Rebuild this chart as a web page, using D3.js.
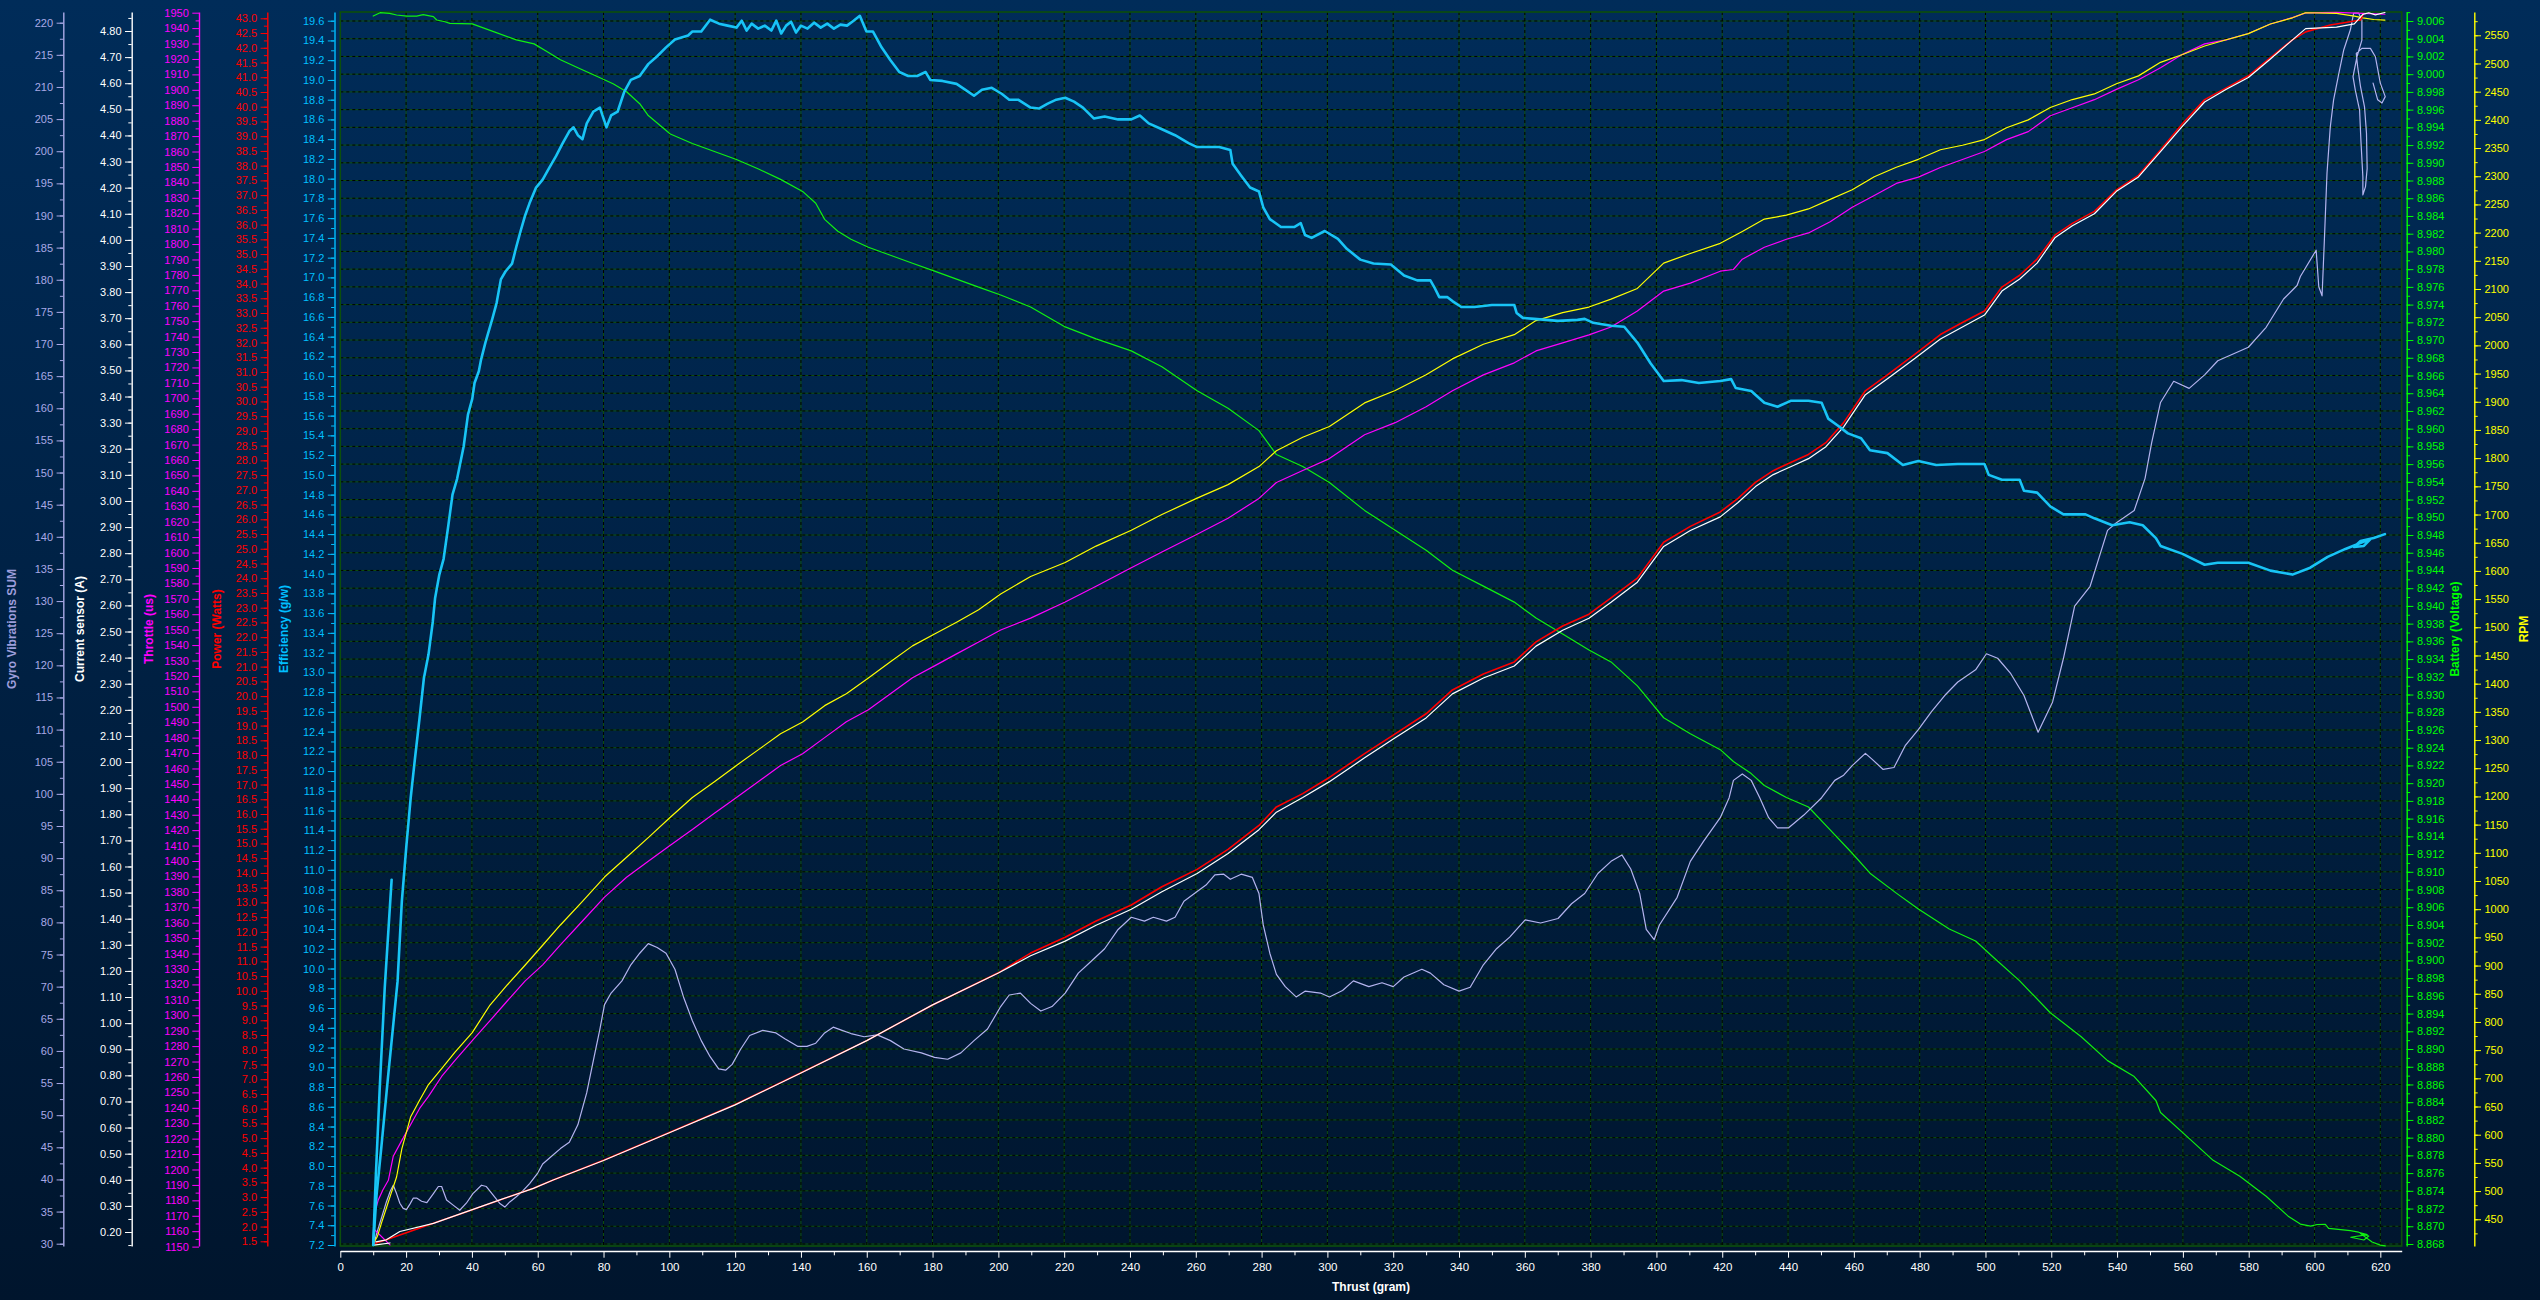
<!DOCTYPE html>
<html><head><meta charset="utf-8">
<script src="https://cdn.jsdelivr.net/npm/d3@7"></script>
<style>
html,body{margin:0;padding:0;background:#001a38;overflow:hidden}
svg{display:block}
</style></head><body>
<svg id="c" width="2540" height="1300"></svg>
<script>
// ---------------- DATA (x = thrust in grams) ----------------
const efficiency = [[10,7.2],[11,7.7],[12.5,8.2],[14.5,8.9],[16,9.4],[17.4,9.87],[18.7,10.68],[20.1,11.25],[21.4,11.73],[22.7,12.13],[24.1,12.54],[25.4,12.94],[26.8,13.18],[28.1,13.51],[28.8,13.75],[30.1,13.99],[31.4,14.15],[32.8,14.48],[34.1,14.80],[35.5,14.96],[37.5,15.29],[38.8,15.61],[40.1,15.77],[40.8,15.93],[42.1,16.05],[42.8,16.17],[44.1,16.34],[46.2,16.58],[47.5,16.74],[48.8,16.98],[50.2,17.06],[52.2,17.14],[53.5,17.31],[54.8,17.47],[56.2,17.63],[57.5,17.75],[59.5,17.91],[61.5,17.99],[63.5,18.11],[65.6,18.23],[67.6,18.36],[69.6,18.48],[70.9,18.52],[72.2,18.44],[73.6,18.40],[74.9,18.56],[76.9,18.68],[78.9,18.72],[80.9,18.52],[82.3,18.64],[84.3,18.68],[86.3,18.88],[88.3,19.00],[91.0,19.04],[93.6,19.16],[96.3,19.24],[99.0,19.33],[101.7,19.41],[105.7,19.45],[107.0,19.49],[109.7,19.49],[112.4,19.61],[115.1,19.57],[117.7,19.55],[120.4,19.53],[122,19.60],[123.5,19.50],[125,19.57],[127,19.52],[129,19.55],[131,19.50],[132.5,19.60],[134,19.47],[135.5,19.55],[137,19.59],[138.5,19.48],[140,19.55],[142,19.52],[144,19.58],[146,19.53],[148,19.57],[150,19.52],[152,19.56],[154,19.55],[156,19.60],[157.9,19.65],[159.9,19.49],[161.9,19.49],[164.5,19.33],[167.2,19.20],[169.9,19.08],[172.6,19.04],[175.3,19.04],[177.9,19.08],[179.3,19.0],[183,18.99],[187.3,18.96],[190,18.90],[192.6,18.84],[195,18.90],[198,18.92],[201,18.86],[203.3,18.80],[206,18.80],[209.8,18.72],[212.3,18.71],[215,18.76],[217.6,18.80],[220.3,18.82],[223,18.78],[225.7,18.72],[229,18.61],[232.3,18.63],[236.4,18.60],[240.4,18.60],[243,18.64],[245.7,18.56],[249.7,18.50],[253.7,18.44],[257.8,18.36],[260.4,18.32],[263.1,18.32],[267.1,18.32],[270.5,18.29],[271.2,18.15],[273.8,18.03],[276.5,17.91],[279.2,17.87],[280.5,17.71],[282.5,17.59],[285.9,17.51],[289.9,17.51],[291.9,17.55],[293.2,17.43],[295.2,17.40],[299.2,17.47],[303.2,17.39],[305.9,17.29],[310,17.18],[314,17.14],[319.3,17.13],[323.3,17.02],[327.3,16.97],[331.3,16.97],[332.5,16.90],[334,16.80],[336.5,16.80],[338,16.76],[340.7,16.70],[344.7,16.70],[350,16.72],[356.8,16.72],[357.5,16.64],[359.4,16.59],[362.8,16.58],[370.1,16.56],[376,16.57],[378.2,16.58],[380.8,16.54],[386.2,16.51],[390.2,16.50],[394.2,16.34],[398.2,16.13],[402.2,15.95],[407.6,15.96],[412.9,15.93],[419.4,15.95],[422.7,15.97],[424.1,15.88],[428.8,15.85],[432.8,15.73],[436.8,15.69],[440.8,15.75],[446.2,15.75],[450.2,15.73],[452.2,15.57],[455.5,15.49],[458.2,15.42],[462.2,15.37],[464.9,15.25],[470.2,15.22],[474.9,15.10],[479.6,15.14],[485,15.10],[491.6,15.11],[499.7,15.11],[501,15.00],[505,14.95],[510.4,14.95],[511.7,14.84],[515.7,14.82],[519.7,14.68],[523.7,14.60],[530.4,14.60],[533.1,14.56],[538.5,14.49],[543.8,14.52],[547.8,14.49],[551.8,14.36],[553.2,14.28],[559.9,14.20],[566.6,14.09],[570.6,14.11],[579.9,14.11],[586.6,14.03],[593.3,13.99],[598.7,14.06],[604,14.17],[609.4,14.25],[614.7,14.32],[617,14.35],[615,14.28],[612,14.27],[614,14.33],[618,14.36],[621.4,14.40]];
const efficiencySpike = [[10,7.2],[10.8,7.9],[12,8.8],[13.5,9.8],[15.6,10.9]];

const battery = [[10,9.00656],[12.1,9.00694],[15,9.00687],[17.1,9.00668],[20.2,9.00656],[23.2,9.00656],[25.2,9.00671],[28.3,9.00650],[29.3,9.00611],[31.8,9.00592],[33.3,9.00574],[40.1,9.00567],[46.8,9.00477],[53.5,9.00387],[58.9,9.00342],[62.9,9.00252],[66.9,9.00162],[72.2,9.00072],[77.6,8.99982],[82.9,8.99892],[87,8.99802],[91,8.99667],[93.6,8.99533],[100.3,8.99325],[107,8.99218],[113.7,8.99128],[120.4,8.99037],[127.1,8.9893],[133.8,8.98813],[140.5,8.98677],[144.5,8.98543],[147.2,8.98362],[151.2,8.98227],[155.2,8.98137],[160.5,8.98047],[167.2,8.97957],[173.9,8.97866],[180.6,8.97778],[187.3,8.97688],[194,8.97597],[200.7,8.97508],[209.8,8.97373],[220.3,8.97148],[229.7,8.97013],[240.4,8.96878],[249.7,8.96698],[260.4,8.96428],[269.8,8.96230],[279.2,8.95978],[284.5,8.95708],[292.5,8.95573],[300.6,8.95393],[311.3,8.95078],[320.6,8.94853],[330,8.94627],[338,8.94403],[347.4,8.94223],[356.8,8.94043],[363.4,8.93863],[371.5,8.93683],[379.5,8.93503],[386.2,8.93368],[394.2,8.93098],[402.2,8.92738],[410.3,8.92558],[419.4,8.92378],[423.4,8.92244],[428.8,8.92108],[432.8,8.91973],[439.5,8.91838],[446.2,8.91731],[451.5,8.91524],[459.5,8.91209],[464.9,8.90984],[472.9,8.90759],[479.6,8.90579],[489,8.90354],[497,8.90219],[502.3,8.90039],[510.4,8.89769],[519.7,8.89409],[529.1,8.89139],[537.1,8.88869],[545.2,8.88689],[551.8,8.88419],[553.2,8.88284],[561.2,8.88014],[569.2,8.87744],[577.3,8.87564],[585.3,8.87339],[592,8.87114],[595.7,8.87025],[598.8,8.87002],[600.8,8.8702],[603.3,8.87022],[604.3,8.86977],[610.9,8.8695],[613.4,8.86933],[616,8.86905],[611,8.86876],[615,8.86845],[616.5,8.86890],[613.9,8.86920],[617.5,8.86823],[620,8.86787],[621.5,8.86778]];

const rpm = [[10,406],[11.3,420],[12.6,445],[14,470],[15.4,495],[17.1,525],[18.7,575],[21.4,632],[24.1,661],[26.8,689],[30.8,717],[34.8,746],[40.1,781],[45.5,830],[50.8,866],[56.2,901],[61.5,936],[66.9,972],[73.6,1014],[80.3,1057],[87.0,1092],[93.6,1127],[100.3,1163],[107,1198],[113.7,1226],[120.4,1255],[127.1,1283],[133.8,1311],[140.5,1332],[147.2,1361],[153.8,1382],[160.5,1410],[167.2,1439],[173.9,1467],[180.6,1488],[187.3,1509],[194,1531],[200.7,1559],[209.8,1590],[220.3,1615],[229.7,1644],[240.4,1672],[249.7,1700],[260.4,1729],[269.8,1753],[279.2,1785],[284.5,1813],[292.5,1837],[300.6,1856],[311.3,1898],[320.6,1920],[330,1948],[338,1976],[347.4,2002],[356.8,2019],[363.4,2044],[371.5,2058],[379.5,2068],[386.2,2082],[394.2,2101],[402.2,2146],[410.3,2163],[419.4,2181],[426.1,2202],[432.8,2224],[439.5,2231],[446.2,2242],[452.8,2259],[459.5,2276],[466.2,2299],[472.9,2316],[479.6,2330],[486.3,2347],[493,2355],[499.7,2365],[506.4,2386],[513,2400],[519.7,2422],[526.4,2436],[533.1,2446],[539.8,2464],[546.5,2478],[553.2,2502],[559.9,2516],[566.6,2531],[573.2,2542],[579.9,2553],[586.6,2570],[593.3,2581],[597.3,2590],[606.7,2589],[612.1,2584],[614.7,2581],[618,2578],[621.4,2577]];

const throttle = [[10.5,1160.8],[15.1,1151.1],null,[10.2,1170],[11.5,1180],[13,1187],[14.6,1193],[16.1,1208.6],[18.7,1218.9],[21.4,1229.2],[24.1,1239.6],[26.8,1247.4],[30.8,1260.3],[34.8,1270.6],[40.1,1283.5],[45.5,1296.5],[50.8,1309.4],[56.2,1322.3],[61.5,1332.7],[66.9,1345.6],[73.6,1361.1],[80.3,1376.6],[87.0,1389.5],[93.6,1399.9],[100.3,1410.2],[107,1420.5],[113.7,1430.9],[120.4,1441.2],[127.1,1451.6],[133.8,1461.9],[140.5,1469.6],[147.2,1480.0],[153.8,1490.3],[160.5,1498.1],[167.2,1508.4],[173.9,1518.8],[180.6,1526.5],[187.3,1534.3],[194,1542.0],[200.7,1549.8],[209.8,1557.5],[220.3,1567.9],[229.7,1578.2],[240.4,1590.1],[249.7,1600.4],[260.4,1611.8],[269.8,1622.2],[279.2,1635.1],[284.5,1645.4],[292.5,1653.2],[300.6,1660.9],[311.3,1676.4],[320.6,1684.2],[330,1694.5],[338,1704.9],[347.4,1715.2],[356.8,1723.0],[363.4,1730.7],[371.5,1735.9],[379.5,1741.1],[386.2,1746.2],[394.2,1756.6],[402.2,1769.5],[410.3,1774.7],[419.4,1782.4],[423.4,1783.5],[426.1,1790.2],[432.8,1797.9],[439.5,1803.1],[446.2,1807.2],[452.8,1814.5],[459.5,1823.8],[466.2,1831.5],[472.9,1839.3],[479.6,1843.4],[486.3,1849.6],[493,1854.8],[499.7,1860.0],[506.4,1867.7],[513,1872.9],[519.7,1883.2],[526.4,1888.4],[533.1,1893.6],[539.8,1900.3],[546.5,1906.5],[553.2,1914.3],[559.9,1923.0],[566.6,1929.8],[573.2,1932.4],[579.9,1936.5],[586.6,1942.7],[593.3,1946.8],[597.3,1949.9],[606.7,1950.2],[614.7,1949.5],[621.4,1949.0]];

const power = [[10,1.41],[14,1.55],[18.1,1.71],[28.3,2.11],[38.4,2.50],[48.5,2.90],[58.7,3.30],[64.7,3.58],[80,4.25],[100,5.19],[120,6.14],[140,7.22],[160,8.31],[180,9.52],[200,10.61],[209.8,11.28],[220.3,11.82],[229.7,12.37],[240.4,12.91],[249.7,13.53],[260.4,14.12],[269.8,14.80],[279.2,15.61],[284.5,16.24],[292.5,16.69],[300.6,17.24],[311.3,18.05],[320.6,18.72],[330,19.40],[338,20.21],[347.4,20.75],[356.8,21.16],[363.4,21.84],[371.5,22.38],[379.5,22.78],[386.2,23.33],[394.2,24.00],[402.2,25.22],[410.3,25.76],[419.4,26.25],[424.8,26.71],[430.1,27.25],[435.5,27.65],[440.8,27.93],[446.2,28.20],[451.5,28.60],[456.9,29.28],[463.5,30.36],[470.2,30.90],[478.3,31.58],[486.3,32.27],[493,32.68],[499.7,33.07],[505,33.88],[510.4,34.28],[515.7,34.83],[521.1,35.64],[526.4,36.04],[533.1,36.45],[539.8,37.18],[546.5,37.67],[553.2,38.53],[559.9,39.43],[566.6,40.24],[573.2,40.64],[579.9,41.05],[586.6,41.67],[593.3,42.27],[597.3,42.54],[604.8,42.77],[614,42.94],[614.7,43.11]];

const currentSensor = [[10.2,0.150],[15.1,0.158],null,[10.8,0.162],[14,0.170],[18.1,0.202],[28.3,0.233],[38.4,0.278],[48.5,0.323],[58.7,0.367],[64.7,0.399],[80,0.474],[100,0.580],[120,0.687],[140,0.809],[160,0.933],[180,1.070],[200,1.192],[209.8,1.258],[220.3,1.314],[229.7,1.375],[240.4,1.436],[249.7,1.503],[260.4,1.573],[269.8,1.650],[279.2,1.741],[284.5,1.808],[292.5,1.864],[300.6,1.925],[311.3,2.016],[320.6,2.093],[330,2.169],[338,2.261],[347.4,2.322],[356.8,2.368],[363.4,2.444],[371.5,2.505],[379.5,2.551],[386.2,2.612],[394.2,2.689],[402.2,2.826],[410.3,2.887],[419.4,2.939],[424.8,2.994],[430.1,3.055],[435.5,3.101],[440.8,3.131],[446.2,3.162],[451.5,3.208],[456.9,3.284],[463.5,3.407],[470.2,3.468],[478.3,3.544],[486.3,3.620],[493,3.666],[499.7,3.712],[505,3.804],[510.4,3.850],[515.7,3.911],[521.1,4.008],[526.4,4.054],[533.1,4.100],[539.8,4.186],[546.5,4.241],[553.2,4.338],[559.9,4.436],[566.6,4.528],[573.2,4.577],[579.9,4.622],[586.6,4.693],[593.3,4.766],[597.3,4.809],[606.7,4.815],[612.1,4.827],[614.7,4.864],[616.5,4.870],[618.5,4.862],[621.4,4.871]];

const gyroVibrations = [[10.2,29.9],[11,31.5],[12.5,34],[14,36.5],[15.2,38.2],[16.1,39.1],[17.1,37.8],[18.1,36.3],[19.1,35.5],[20.1,35.3],[21.2,36.2],[22.2,37.1],[23.2,37.1],[24.7,36.6],[26.3,36.4],[28.3,37.8],[29.8,38.9],[30.8,38.9],[32.3,36.8],[34.3,36.0],[36.3,35.2],[38.3,36.3],[40.3,37.8],[42.9,39.1],[44.4,38.9],[46.4,37.6],[48.4,36.3],[50,35.7],[51.5,36.5],[53.5,37.3],[55.6,38.3],[57.6,39.4],[60,41.0],[61.5,42.4],[64.2,43.6],[66.9,44.8],[69.6,45.8],[72.2,48.5],[74.9,53.5],[76.9,58.5],[78.9,63.4],[80.3,67.2],[82.3,69.0],[85.6,70.9],[88.3,73.4],[91,75.2],[93.6,76.7],[96.3,76.1],[99,75.2],[101.7,72.7],[104.3,68.4],[107,64.7],[109.7,61.6],[112.4,59.1],[115,57.2],[117.1,57.0],[119.1,57.9],[121.7,60.3],[124.4,62.4],[128.4,63.2],[132.4,62.8],[135.1,61.9],[139.1,60.7],[141.8,60.7],[144.5,61.2],[147.2,62.8],[149.8,63.7],[152.5,63.2],[155.2,62.7],[159.2,62.2],[163.2,62.5],[167.2,61.6],[171.3,60.3],[176.6,59.7],[180.6,59.0],[184.6,58.7],[188.6,59.7],[192.6,61.6],[196.7,63.4],[200.7,66.9],[203.3,68.7],[206.7,69.0],[209.8,67.4],[212.9,66.2],[216.3,66.9],[220.3,69.0],[224.3,72.1],[228.3,74.0],[232.3,75.9],[236.4,78.9],[240.4,80.8],[244.4,80.2],[247.1,80.8],[251.1,80.2],[253.7,80.8],[256.4,83.3],[260.4,84.8],[263.1,85.8],[265.8,87.4],[268.5,87.5],[270.5,86.7],[273.8,87.5],[277.2,87.0],[279.2,84.5],[280.5,79.6],[282.5,75.2],[284.5,71.9],[287.2,70.0],[290.5,68.4],[293.2,69.3],[297.9,69.0],[300.6,68.4],[304.6,69.4],[307.9,70.9],[312.6,70.0],[316.6,70.6],[320,70.0],[323.3,71.5],[328.7,72.7],[331.3,72.1],[335.4,70.3],[340,69.3],[343.4,69.9],[347.4,73.4],[351.4,75.9],[355.4,77.7],[360.1,80.4],[364.8,79.9],[370.1,80.6],[374.2,82.9],[378.2,84.5],[382.2,87.6],[386.2,89.5],[389.5,90.5],[392.2,88.3],[394.9,84.5],[396.9,78.9],[399.3,77.3],[400.9,79.6],[406.3,83.9],[410.3,89.5],[414.3,92.6],[419.4,96.3],[422.1,99.4],[423.4,102.1],[426.1,103.1],[428.8,102.1],[431.4,99.4],[434.1,96.3],[436.8,94.7],[440.1,94.7],[444.8,96.7],[450.2,99.4],[454.2,102.1],[456.9,102.9],[459.5,104.4],[463.5,106.3],[465.5,105.4],[468.9,103.8],[472.2,104.1],[475.6,107.5],[479.6,110.0],[483.6,112.8],[487.6,115.3],[491.6,117.4],[497,119.3],[500.3,121.8],[503.7,121.1],[507.7,118.7],[511.7,115.3],[516,109.6],[520.4,114.3],[523.7,121.1],[527.1,129.2],[531.8,132.3],[537.1,141.0],[539.8,142.2],[545.2,144.1],[548.5,149.1],[550.5,154.6],[553.2,160.9],[557.2,164.2],[561.9,163.1],[566.6,165.2],[570.6,167.4],[579.9,169.5],[585.3,172.6],[590.6,177.0],[594.7,179.1],[595.7,180.5],[600.5,184.6],[601.3,178.9],[602.3,177.5],[603,186.2],[603.8,196.6],[604.8,203.8],[605.8,208.0],[607.4,212.1],[608.9,215.8],[610.9,218.9],[611.9,221.5],[613.4,221.5],[614.4,220.4],[614.4,217.3],[612.9,214.7],[611.7,211.6],[612.4,209.5],[613.7,206.4],[614.1,201.7],[614.7,196.0],[614.7,193.2],[615.5,194.5],[616,197.3],[615.8,202.8],[615.2,206.9],[614.0,210.0],[613.1,213.2],[612.7,215.2],[614.4,216.0],[617,216.0],[618.5,214.7],[620,210.6],[621.5,208.5],[620.5,207.5],[619.2,208.0],[617.8,210.6]];

// ---------------- TICKS ----------------
const thrustTicks = d3.range(0, 621, 20);
const thrustMinor = d3.range(10, 627, 20);
const gyroTicks = d3.range(30, 221, 5);
const gyroMinor = d3.range(30, 222, 2.5);
const currentTicks = d3.range(2, 49).map(i => i / 10);
const currentMinor = d3.range(3, 98).map(i => i / 20);
const throttleTicks = d3.range(1150, 1951, 10);
const throttleMinor = d3.range(1155, 1951, 10);
const powerTicks = d3.range(3, 87).map(i => i / 2);
const powerMinor = d3.range(6, 173).map(i => i / 4);
const effTicks = d3.range(36, 99).map(i => i / 5);
const effMinor = d3.range(72, 197).map(i => i / 10);
const batteryTicks = d3.range(4434, 4504).map(i => i / 500);
const batteryMinor = d3.range(8868, 9008).map(i => i / 1000);
const rpmTicks = d3.range(450, 2551, 50);
const rpmMinor = d3.range(425, 2591, 25);

// ---------------- LAYOUT ----------------
const W = 2540, H = 1300;
const TOP = 12, BOT = 1246, LEFT = 340.3, RIGHT = 2401.7;
const FONT = '"Liberation Sans", Arial, sans-serif';

const svg = d3.select('#c');
const defs = svg.append('defs');
const grad = defs.append('linearGradient').attr('id', 'bg').attr('x1', 0).attr('y1', 0).attr('x2', 0).attr('y2', 1);
grad.append('stop').attr('offset', '0%').attr('stop-color', '#002c59');
grad.append('stop').attr('offset', '100%').attr('stop-color', '#00152d');
defs.append('clipPath').attr('id', 'clip').append('rect')
  .attr('x', LEFT - 2).attr('y', TOP - 2).attr('width', RIGHT - LEFT + 4).attr('height', BOT - TOP + 4);
svg.append('rect').attr('width', W).attr('height', H).attr('fill', 'url(#bg)');

const x = d3.scaleLinear().domain([0, 626.5]).range([LEFT, RIGHT]);
const yGyro = d3.scaleLinear().domain([29.642, 221.665]).range([BOT, TOP]);
const yCurrent = d3.scaleLinear().domain([0.1464, 4.8728]).range([BOT, TOP]);
const yThrottle = d3.scaleLinear().domain([1150.4, 1950.45]).range([BOT, TOP]);
const yPower = d3.scaleLinear().domain([1.3405, 43.214]).range([BOT, TOP]);
const yEff = d3.scaleLinear().domain([7.1899, 19.688]).range([BOT, TOP]);
const yBat = d3.scaleLinear().domain([8.867774, 9.007016]).range([BOT, TOP]);
const yRpm = d3.scaleLinear().domain([402.6, 2591.3]).range([BOT, TOP]);

// ---------------- GRID ----------------
const grid = svg.append('g');
const hY = batteryTicks.map(v => yBat(v));
const vX = thrustTicks.filter(v => v > 0).map(v => x(v));
[['#0d500d', null], ['#000000', '3,3']].forEach(([col, dash]) => {
  grid.selectAll(null).data(hY).enter().append('line')
    .attr('x1', LEFT).attr('x2', RIGHT).attr('y1', d => d).attr('y2', d => d)
    .attr('stroke', col).attr('stroke-width', 1).attr('stroke-dasharray', dash);
  grid.selectAll(null).data(vX).enter().append('line')
    .attr('y1', TOP).attr('y2', BOT).attr('x1', d => d).attr('x2', d => d)
    .attr('stroke', col).attr('stroke-width', 1).attr('stroke-dasharray', dash);
});
svg.append('rect').attr('x', LEFT).attr('y', TOP).attr('width', RIGHT - LEFT).attr('height', BOT - TOP)
  .attr('fill', 'none').attr('stroke', '#0c4f0c').attr('stroke-width', 1.6);

// ---------------- Y AXES ----------------
const axes = [
  {scale: yGyro, x: 63.3, left: true, color: '#a9a9e6', tcol: '#9d9ddb', ticks: gyroTicks, minor: gyroMinor, fmt: d3.format('d'), title: 'Gyro Vibrations SUM', tx: 15.5},
  {scale: yCurrent, x: 131.7, left: true, color: '#ffffff', tcol: '#ffffff', ticks: currentTicks, minor: currentMinor, fmt: d3.format('.2f'), title: 'Current sensor (A)', tx: 84},
  {scale: yThrottle, x: 199, left: true, color: '#ff00ff', tcol: '#ff00ff', ticks: throttleTicks, minor: throttleMinor, fmt: d3.format('d'), title: 'Throttle (us)', tx: 152.5},
  {scale: yPower, x: 267.3, left: true, color: '#ff0000', tcol: '#ff0000', ticks: powerTicks, minor: powerMinor, fmt: d3.format('.1f'), title: 'Power (Watts)', tx: 220.5},
  {scale: yEff, x: 334.5, left: true, color: '#00bfff', tcol: '#00bfff', ticks: effTicks, minor: effMinor, fmt: d3.format('.1f'), title: 'Efficiency (g/w)', tx: 287.5},
  {scale: yBat, x: 2406.7, left: false, color: '#00ff00', tcol: '#00ff00', ticks: batteryTicks, minor: batteryMinor, fmt: d3.format('.3f'), title: 'Battery (Voltage)', tx: 2459},
  {scale: yRpm, x: 2474.3, left: false, color: '#ffff00', tcol: '#ffff00', ticks: rpmTicks, minor: rpmMinor, fmt: d3.format('d'), title: 'RPM', tx: 2527.5}
];

axes.forEach(a => {
  const mk = a.left ? d3.axisLeft : d3.axisRight;
  const gm = svg.append('g').attr('transform', `translate(${a.x},0)`)
    .call(mk(a.scale).tickValues(a.minor).tickSize(3.4).tickSizeOuter(0).tickFormat(''));
  gm.select('.domain').remove();
  gm.selectAll('.tick line').attr('stroke', a.color);
  const g = svg.append('g').attr('transform', `translate(${a.x},0)`)
    .call(mk(a.scale).tickValues(a.ticks).tickSize(6.7).tickSizeOuter(0).tickPadding(3.5).tickFormat(a.fmt));
  g.attr('font-family', FONT).attr('font-size', 11);
  g.select('.domain').attr('stroke', a.color).attr('stroke-width', 1.4);
  g.selectAll('.tick line').attr('stroke', a.color);
  g.selectAll('.tick text').attr('fill', a.color);
  svg.append('text')
    .attr('transform', `translate(${a.tx},629) rotate(-90)`)
    .attr('text-anchor', 'middle')
    .attr('font-family', FONT).attr('font-size', 12).attr('font-weight', 'bold')
    .attr('fill', a.tcol)
    .text(a.title);
});

// ---------------- X AXIS ----------------
const XAXIS_Y = 1251;
const gxm = svg.append('g').attr('transform', `translate(0,${XAXIS_Y})`)
  .call(d3.axisBottom(x).tickValues(thrustMinor).tickSize(4.3).tickSizeOuter(0).tickFormat(''));
gxm.select('.domain').remove();
gxm.selectAll('.tick line').attr('stroke', '#ffffff');
const gx = svg.append('g').attr('transform', `translate(0,${XAXIS_Y})`)
  .call(d3.axisBottom(x).tickValues(thrustTicks).tickSize(6.7).tickSizeOuter(0).tickPadding(5.5).tickFormat(d3.format('d')));
gx.attr('font-family', FONT).attr('font-size', 11.5);
gx.select('.domain').attr('stroke', '#ffffff').attr('stroke-width', 1.4);
gx.selectAll('.tick line').attr('stroke', '#ffffff');
gx.selectAll('.tick text').attr('fill', '#ffffff');
svg.append('text').attr('x', (LEFT + RIGHT) / 2).attr('y', 1290.5)
  .attr('text-anchor', 'middle').attr('font-family', FONT).attr('font-size', 12).attr('font-weight', 'bold')
  .attr('fill', '#ffffff').text('Thrust (gram)');

// ---------------- SERIES ----------------
const plot = svg.append('g').attr('clip-path', 'url(#clip)');
function drawSeries(data, yScale, color, width) {
  const line = d3.line().defined(d => d != null).x(d => x(d[0])).y(d => yScale(d[1]));
  plot.append('path').datum(data).attr('d', line)
    .attr('fill', 'none').attr('stroke', color).attr('stroke-width', width)
    .attr('stroke-linejoin', 'round').attr('stroke-linecap', 'round');
}
drawSeries(battery, yBat, '#10f010', 1.2);
drawSeries(gyroVibrations, yGyro, '#b4b4ee', 1.2);
drawSeries(throttle, yThrottle, '#ff00ff', 1.2);
drawSeries(rpm, yRpm, '#ffff00', 1.2);
drawSeries(power, yPower, '#ff0000', 1.6);
drawSeries(currentSensor, yCurrent, '#ffffff', 1.2);
drawSeries(efficiencySpike, yEff, '#18c4f6', 2.6);
drawSeries(efficiency, yEff, '#18c4f6', 2.6);
</script>
</body></html>
